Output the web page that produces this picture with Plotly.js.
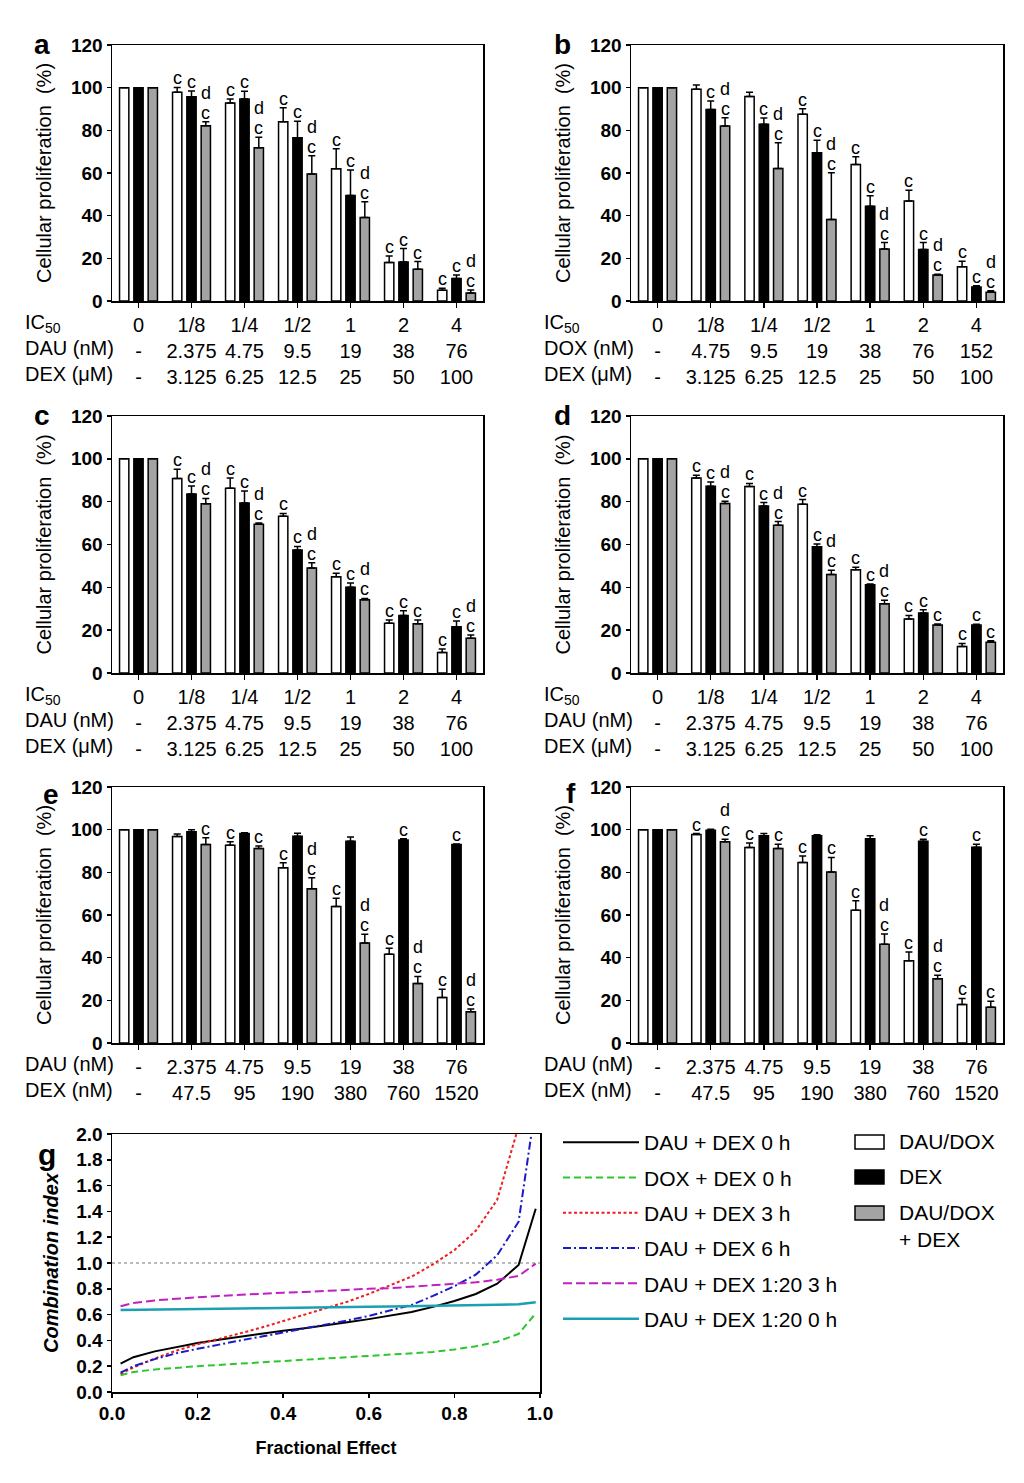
<!DOCTYPE html>
<html>
<head>
<meta charset="utf-8">
<script src="https://cdn.plot.ly/plotly-3.0.1.min.js"></script>
<style>html,body{margin:0;padding:0;background:#fff}</style>
</head>
<body>
<div id="chart" style="width:1024px;height:1483px"></div>
<script>
// ---------------- DATA ----------------
const groups = [0, 1, 2, 3, 4, 5, 6];
const icLabels = ['0', '1/8', '1/4', '1/2', '1', '2', '4'];
const dauNM = ['-', '2.375', '4.75', '9.5', '19', '38', '76'];
const doxNM = ['-', '4.75', '9.5', '19', '38', '76', '152'];
const dexUM = ['-', '3.125', '6.25', '12.5', '25', '50', '100'];
const dexNM = ['-', '47.5', '95', '190', '380', '760', '1520'];
const seriesNames = ['DAU/DOX', 'DEX', 'DAU/DOX<br>+ DEX'];

// panel a
const aDrug = [100, 97.9, 92.8, 84.0, 62.0, 18.0, 5.0];
const aDrugErr = [0, 2.2, 1.9, 6.6, 9.4, 3.1, 1.0];
const aDrugSig = ['', 'c', 'c', 'c', 'c', 'c', 'c'];
const aDex = [100, 95.7, 94.7, 76.5, 49.4, 18.3, 10.6];
const aDexErr = [0, 2.7, 3.6, 7.8, 12.0, 6.3, 1.6];
const aDexSig = ['', 'c', 'c', 'c', 'c', 'c', 'c'];
const aComb = [100, 82.1, 71.8, 59.5, 39.1, 14.9, 3.8];
const aCombErr = [0, 1.9, 5.0, 8.6, 7.4, 3.6, 1.4];
const aCombSig = ['', 'dc', 'dc', 'dc', 'dc', 'c', 'dc'];

// panel b
const bDrug = [100, 99.2, 95.9, 87.5, 64.0, 46.9, 16.0];
const bDrugErr = [0, 2.0, 1.9, 2.6, 3.6, 5.0, 2.6];
const bDrugSig = ['', '', '', 'c', 'c', 'c', 'c'];
const bDex = [100, 89.8, 82.8, 69.5, 44.4, 24.1, 6.6];
const bDexErr = [0, 3.9, 3.0, 5.9, 4.9, 3.3, 0.6];
const bDexSig = ['', 'c', 'c', 'c', 'c', 'c', 'c'];
const bComb = [100, 82.0, 62.1, 38.2, 24.4, 12.2, 4.1];
const bCombErr = [0, 3.9, 12.1, 21.9, 3.0, 0.3, 0.7];
const bCombSig = ['', 'dc', 'dc', 'dc', 'dc', 'dc', 'dc'];

// panel c
const cDrug = [100, 90.8, 86.3, 73.2, 44.9, 23.2, 9.6];
const cDrugErr = [0, 4.3, 4.8, 1.3, 1.7, 1.5, 1.6];
const cDrugSig = ['', 'c', 'c', 'c', 'c', 'c', 'c'];
const cDex = [100, 83.6, 79.4, 57.4, 40.0, 26.9, 21.6];
const cDexErr = [0, 3.7, 5.6, 1.7, 2.0, 2.2, 2.7];
const cDexSig = ['', 'c', 'c', 'c', 'c', 'c', 'c'];
const cComb = [100, 79.0, 69.5, 49.0, 34.2, 23.0, 16.2];
const cCombErr = [0, 2.5, 0.5, 2.5, 0.6, 1.7, 1.5];
const cCombSig = ['', 'dc', 'dc', 'dc', 'dc', 'c', 'dc'];

// panel d
const dDrug = [100, 91.1, 87.1, 78.8, 48.2, 25.2, 12.4];
const dDrugErr = [0, 1.2, 1.4, 2.2, 1.2, 1.7, 1.4];
const dDrugSig = ['', 'c', 'c', 'c', 'c', 'c', 'c'];
const dDex = [100, 87.2, 78.0, 58.9, 41.2, 28.0, 22.4];
const dDexErr = [0, 2.0, 1.6, 1.3, 0.3, 1.5, 0.4];
const dDexSig = ['', 'c', 'c', 'c', 'c', 'c', 'c'];
const dComb = [100, 79.1, 69.0, 46.0, 32.3, 22.4, 14.3];
const dCombErr = [0, 1.1, 1.7, 2.0, 1.7, 0.5, 0.8];
const dCombSig = ['', 'dc', 'dc', 'dc', 'dc', 'c', 'c'];

// panel e
const eDrug = [100, 96.8, 92.7, 82.1, 64.0, 41.6, 21.3];
const eDrugErr = [0, 1.2, 1.6, 2.4, 3.8, 2.8, 3.9];
const eDrugSig = ['', '', 'c', 'c', 'c', 'c', 'c'];
const eDex = [100, 99.0, 98.2, 96.9, 94.6, 95.1, 93.0];
const eDexErr = [0, 1.0, 0.4, 1.4, 2.0, 0.7, 0.3];
const eDexSig = ['', '', '', '', '', 'c', 'c'];
const eComb = [100, 93.0, 91.2, 72.3, 46.9, 27.9, 14.6];
const eCombErr = [0, 3.2, 1.1, 5.2, 4.1, 3.3, 1.3];
const eCombSig = ['', 'c', 'c', 'dc', 'dc', 'dc', 'dc'];

// panel f
const fDrug = [100, 97.7, 91.6, 84.6, 62.2, 38.6, 18.1];
const fDrugErr = [0, 0.5, 2.2, 3.0, 4.5, 4.1, 2.8];
const fDrugSig = ['', 'c', 'c', 'c', 'c', 'c', 'c'];
const fDex = [100, 99.7, 97.2, 97.1, 95.7, 94.6, 91.8];
const fDexErr = [0, 0.5, 1.0, 0.5, 1.4, 0.9, 1.4];
const fDexSig = ['', '', '', '', '', 'c', 'c'];
const fComb = [100, 94.3, 91.2, 80.1, 46.3, 30.1, 16.8];
const fCombErr = [0, 1.2, 2.0, 6.9, 4.8, 1.7, 2.8];
const fCombSig = ['', 'dc', 'c', 'c', 'dc', 'dc', 'c'];

// panel g (combination index vs fractional effect)
const fa = [0.02, 0.05, 0.10, 0.15, 0.20, 0.25, 0.30, 0.35, 0.40, 0.45, 0.50, 0.55, 0.60, 0.65, 0.70, 0.75, 0.80, 0.85, 0.90, 0.95, 0.99];
const ciDau0 = [0.22, 0.27, 0.315, 0.35, 0.38, 0.405, 0.43, 0.45, 0.475, 0.495, 0.515, 0.54, 0.565, 0.59, 0.62, 0.66, 0.705, 0.76, 0.84, 0.985, 1.42];
const ciDox0 = [0.13, 0.155, 0.175, 0.19, 0.20, 0.21, 0.22, 0.23, 0.24, 0.25, 0.255, 0.265, 0.275, 0.285, 0.295, 0.31, 0.33, 0.355, 0.39, 0.45, 0.61];
const ciDau3 = [0.14, 0.19, 0.26, 0.32, 0.37, 0.41, 0.455, 0.50, 0.55, 0.595, 0.645, 0.70, 0.76, 0.825, 0.895, 0.99, 1.10, 1.25, 1.49, 2.06, null];
const ciDau6 = [0.15, 0.20, 0.255, 0.30, 0.335, 0.37, 0.40, 0.43, 0.46, 0.49, 0.52, 0.555, 0.59, 0.63, 0.675, 0.745, 0.82, 0.91, 1.06, 1.32, 2.23];
const ci120_3 = [0.665, 0.69, 0.71, 0.725, 0.735, 0.745, 0.755, 0.765, 0.77, 0.775, 0.785, 0.79, 0.80, 0.805, 0.815, 0.825, 0.835, 0.85, 0.87, 0.90, 0.995];
const ci120_0 = [0.635, 0.637, 0.64, 0.642, 0.645, 0.647, 0.648, 0.65, 0.651, 0.653, 0.655, 0.657, 0.66, 0.662, 0.664, 0.667, 0.67, 0.673, 0.676, 0.68, 0.695];
const ciNames = ['DAU + DEX 0 h', 'DOX + DEX 0 h', 'DAU + DEX 3 h', 'DAU + DEX 6 h', 'DAU + DEX 1:20 3 h', 'DAU + DEX 1:20 0 h'];
const ciSeries = [ciDau0, ciDox0, ciDau3, ciDau6, ci120_3, ci120_0];

// ---------------- LAYOUT HELPERS ----------------
const W = 1024, H = 1483;
const FONT = 'Liberation Sans, Arial, sans-serif';
const fx = p => p / W;
const fy = p => 1 - p / H;
const BARGAP = 0.19, GROUPGAP = 0.35;
const slot = (1 - BARGAP) / 3;
const LETTER_SIZE = 18, LETTER_STEP = 20;

const colsPx = [[112, 483], [631, 1003]];
const rowsPx = [[45, 301], [416, 673], [787, 1043]];

const barFills = ['#ffffff', '#000000', '#a3a3a3'];

const panels = [
  {letter: 'a', col: 0, row: 0, rows: [icLabels, dauNM, dexUM], rowLab: ['IC<sub>50</sub>', 'DAU (nM)', 'DEX (μM)'],
   vals: [aDrug, aDex, aComb], errs: [aDrugErr, aDexErr, aCombErr], sigs: [aDrugSig, aDexSig, aCombSig], lx: 42, ly: 45},
  {letter: 'b', col: 1, row: 0, rows: [icLabels, doxNM, dexUM], rowLab: ['IC<sub>50</sub>', 'DOX (nM)', 'DEX (μM)'],
   vals: [bDrug, bDex, bComb], errs: [bDrugErr, bDexErr, bCombErr], sigs: [bDrugSig, bDexSig, bCombSig], lx: 562, ly: 45},
  {letter: 'c', col: 0, row: 1, rows: [icLabels, dauNM, dexUM], rowLab: ['IC<sub>50</sub>', 'DAU (nM)', 'DEX (μM)'],
   vals: [cDrug, cDex, cComb], errs: [cDrugErr, cDexErr, cCombErr], sigs: [cDrugSig, cDexSig, cCombSig], lx: 42, ly: 416},
  {letter: 'd', col: 1, row: 1, rows: [icLabels, dauNM, dexUM], rowLab: ['IC<sub>50</sub>', 'DAU (nM)', 'DEX (μM)'],
   vals: [dDrug, dDex, dComb], errs: [dDrugErr, dDexErr, dCombErr], sigs: [dDrugSig, dDexSig, dCombSig], lx: 562, ly: 416},
  {letter: 'e', col: 0, row: 2, rows: [dauNM, dexNM], rowLab: ['DAU (nM)', 'DEX (nM)'],
   vals: [eDrug, eDex, eComb], errs: [eDrugErr, eDexErr, eCombErr], sigs: [eDrugSig, eDexSig, eCombSig], lx: 51, ly: 795},
  {letter: 'f', col: 1, row: 2, rows: [dauNM, dexNM], rowLab: ['DAU (nM)', 'DEX (nM)'],
   vals: [fDrug, fDex, fComb], errs: [fDrugErr, fDexErr, fCombErr], sigs: [fDrugSig, fDexSig, fCombSig], lx: 571, ly: 793}
];

const traces = [];
const annotations = [];
const shapes = [];
const layout = {
  width: W, height: H,
  margin: {l: 0, r: 0, t: 0, b: 0},
  paper_bgcolor: '#ffffff', plot_bgcolor: '#ffffff',
  font: {family: FONT, color: '#000', size: 20},
  barmode: 'group', bargap: BARGAP, bargroupgap: GROUPGAP,
  showlegend: true
};

panels.forEach((p, pi) => {
  const n = pi + 1;
  const xa = 'x' + (n === 1 ? '' : n), ya = 'y' + (n === 1 ? '' : n);
  const xk = 'xaxis' + (n === 1 ? '' : n), yk = 'yaxis' + (n === 1 ? '' : n);
  const cx = colsPx[p.col], ry = rowsPx[p.row];
  const tickText = groups.map(i => p.rows.map(r => r[i]).join('<br>'));
  layout[xk] = {
    domain: [fx(cx[0]), fx(cx[1])], anchor: ya, range: [-0.5, 6.5],
    tickmode: 'array', tickvals: groups, ticktext: tickText,
    ticks: 'outside', ticklen: 5, tickwidth: 1.5, tickcolor: '#000',
    showline: true, mirror: true, linecolor: '#000', linewidth: 1.5,
    showgrid: false, zeroline: false, fixedrange: true,
    tickfont: {family: FONT, size: 20, color: '#000'}
  };
  layout[yk] = {
    domain: [fy(ry[1]), fy(ry[0])], anchor: xa, range: [0, 120],
    tickmode: 'linear', tick0: 0, dtick: 20,
    ticks: 'outside', ticklen: 4, tickwidth: 1.5, tickcolor: '#000',
    showline: true, mirror: true, linecolor: '#000', linewidth: 1.5,
    showgrid: false, zeroline: false, fixedrange: true,
    tickfont: {family: FONT, size: 19, color: '#000', weight: 'bold'},
    title: {text: 'Cellular proliferation\u00a0\u00a0(%)', font: {family: FONT, size: 20, color: '#000'}, standoff: 14}
  };
  for (let k = 0; k < 3; k++) {
    traces.push({
      type: 'bar', x: groups, y: p.vals[k], xaxis: xa, yaxis: ya,
      name: seriesNames[k].replace('<br>', ' '), showlegend: false,
      marker: {color: barFills[k], line: {color: '#000', width: 1.5}},
      error_y: {type: 'data', symmetric: false, array: p.errs[k], arrayminus: p.errs[k].map(() => 0),
                color: '#000', thickness: 1.5, width: 3.5},
      hoverinfo: 'skip'
    });
    // significance letters
    p.sigs[k].forEach((s, i) => {
      const top = p.vals[k][i] + p.errs[k][i];
      const letters = s.split('');
      letters.forEach((ch, j) => {
        const level = letters.length - 1 - j;
        annotations.push({
          xref: xa, yref: ya, x: i + (k - 1) * slot, y: top,
          xanchor: 'center', yanchor: 'bottom', yshift: -1 + level * LETTER_STEP,
          borderpad: 0, borderwidth: 0,
          text: ch, showarrow: false, font: {family: FONT, size: LETTER_SIZE, color: '#000'}
        });
      });
    });
  }
  // row labels of the tick table
  annotations.push({
    xref: 'paper', yref: 'paper', x: fx(cx[0] - 89), y: fy(ry[1] + 8),
    xanchor: 'left', yanchor: 'top', align: 'left', showarrow: false,
    text: p.rowLab.join('<br>'), font: {family: FONT, size: 20, color: '#000'}
  });
  // panel letter
  annotations.push({
    xref: 'paper', yref: 'paper', x: fx(p.lx), y: fy(p.ly),
    xanchor: 'center', yanchor: 'middle', showarrow: false,
    text: '<b>' + p.letter + '</b>', font: {family: FONT, size: 28, color: '#000'}
  });
});

// ---------------- PANEL G ----------------
const gx = [112, 540], gy = [1134, 1392];
layout.xaxis7 = {
  domain: [fx(gx[0]), fx(gx[1])], anchor: 'y7', range: [0, 1],
  tickmode: 'linear', tick0: 0, dtick: 0.2, tickformat: '.1f',
  ticks: 'outside', ticklen: 4, tickwidth: 1.5, tickcolor: '#000',
  showline: true, mirror: true, linecolor: '#000', linewidth: 1.5,
  showgrid: false, zeroline: false, fixedrange: true,
  tickfont: {family: FONT, size: 19, color: '#000', weight: 'bold'},
  title: {text: 'Fractional Effect', font: {family: FONT, size: 18, color: '#000', weight: 'bold'}, standoff: 18}
};
layout.yaxis7 = {
  domain: [fy(gy[1]), fy(gy[0])], anchor: 'x7', range: [0, 2],
  tickmode: 'linear', tick0: 0, dtick: 0.2, tickformat: '.1f',
  ticks: 'outside', ticklen: 4, tickwidth: 1.5, tickcolor: '#000',
  showline: true, mirror: true, linecolor: '#000', linewidth: 1.5,
  showgrid: false, zeroline: false, fixedrange: true,
  tickfont: {family: FONT, size: 19, color: '#000', weight: 'bold'},
  title: {text: 'Combination index', font: {family: FONT, size: 20, color: '#000', weight: 'bold', style: 'italic'}, standoff: 12}
};
const ciStyles = [
  {color: '#000000', dash: 'solid', width: 2},
  {color: '#2ec62e', dash: '7px,4px', width: 2},
  {color: '#f01e1e', dash: '3px,2.5px', width: 2},
  {color: '#1a1ac8', dash: '8px,3px,2px,3px', width: 2},
  {color: '#c21fc2', dash: '9px,4px', width: 2},
  {color: '#1ba0b2', dash: 'solid', width: 2.5}
];
ciSeries.forEach((s, k) => {
  traces.push({
    type: 'scatter', mode: 'lines', x: fa, y: s, xaxis: 'x7', yaxis: 'y7',
    name: ciNames[k], legendgroup: 'ci' + k, showlegend: true,
    line: ciStyles[k], connectgaps: false, hoverinfo: 'skip'
  });
});
shapes.push({type: 'line', xref: 'x7', yref: 'y7', x0: 0, x1: 1, y0: 1, y1: 1,
  line: {color: '#777', width: 1, dash: 'dot'}, layer: 'below'});
annotations.push({
  xref: 'paper', yref: 'paper', x: fx(47), y: fy(1154), xanchor: 'center', yanchor: 'middle',
  showarrow: false, text: '<b>g</b>', font: {family: FONT, size: 30, color: '#000'}
});

// bar key (fill swatches for the three bar series)
const keyRowsPx = [1142, 1177, 1213];
barFills.forEach((c, k) => {
  shapes.push({type: 'rect', xref: 'paper', yref: 'paper',
    x0: fx(855), x1: fx(884), y0: fy(keyRowsPx[k] + 7), y1: fy(keyRowsPx[k] - 7),
    fillcolor: c, line: {color: '#000', width: 1.5}});
  annotations.push({xref: 'paper', yref: 'paper', x: fx(897), y: fy(keyRowsPx[k] - 14),
    xanchor: 'left', yanchor: 'top', align: 'left', showarrow: false,
    text: seriesNames[k], font: {family: FONT, size: 21, color: '#000'}});
});

layout.legend = {
  x: fx(558), y: fy(1122), xanchor: 'left', yanchor: 'top',
  font: {family: FONT, size: 21, color: '#000'},
  traceorder: 'grouped', tracegroupgap: 5, itemwidth: 76,
  bgcolor: 'rgba(0,0,0,0)', borderwidth: 0
};
layout.annotations = annotations;
layout.shapes = shapes;

Plotly.newPlot('chart', traces, layout, {displayModeBar: false, staticPlot: true});
</script>
</body>
</html>
